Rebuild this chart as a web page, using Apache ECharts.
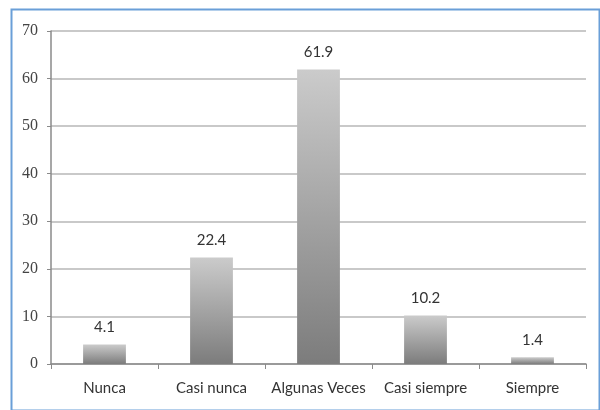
<!DOCTYPE html>
<html>
<head>
<meta charset="utf-8">
<script src="https://cdn.jsdelivr.net/npm/echarts@6/dist/echarts.min.js"></script>
<style>
  html, body { margin: 0; padding: 0; background: #fff; }
  #main { width: 600px; height: 410px; }
</style>
</head>
<body>
<div id="main"></div>
<script>
// categorias y porcentajes
var categories = ["Nunca", "Casi nunca", "Algunas Veces", "Casi siempre", "Siempre"];
var values = [4.1, 22.4, 61.9, 10.2, 1.4];
var yTicks = [0, 10, 20, 30, 40, 50, 60, 70];

var chart = echarts.init(document.getElementById("main"));

var barColor = new echarts.graphic.LinearGradient(0, 0, 0, 1, [
	{offset: 0, color: "#cbcbcb"},
	{offset: 1, color: "#7c7c7c"}
]);

chart.setOption({
	animation: false,
	grid: { left: 51, right: 14, top: 31, bottom: 46 },
	graphic: [{
		type: "rect",
		left: 9, top: 7,
		shape: { width: 588, height: 401 },
		style: { fill: "none", stroke: "#6a9fd8", lineWidth: 2 },
		silent: true
	}],
	xAxis: {
		type: "category",
		data: categories,
		axisLine: { lineStyle: { color: "#8a8a8a", width: 1.5 } },
		axisTick: { show: true, length: 5, lineStyle: { color: "#8a8a8a" } },
		axisLabel: { interval: 0, color: "#333", fontFamily: "Lato", fontSize: 15, margin: 17 }
	},
	yAxis: {
		type: "value",
		min: yTicks[0],
		max: yTicks[yTicks.length - 1],
		interval: 10,
		axisLine: { show: true, lineStyle: { color: "#8a8a8a", width: 1.5 } },
		axisTick: { show: true, length: 4, lineStyle: { color: "#8a8a8a" } },
		axisLabel: { color: "#444", fontFamily: "Liberation Serif", fontSize: 16, margin: 13 },
		splitLine: { lineStyle: { color: "#c9c9c9", width: 2 } }
	},
	series: [{
		type: "bar",
		data: values,
		barWidth: "40%",
		itemStyle: { color: barColor },
		label: {
			show: true,
			position: "top",
			distance: 10,
			color: "#333",
			fontFamily: "Lato",
			fontSize: 15
		}
	}]
});
</script>
</body>
</html>
